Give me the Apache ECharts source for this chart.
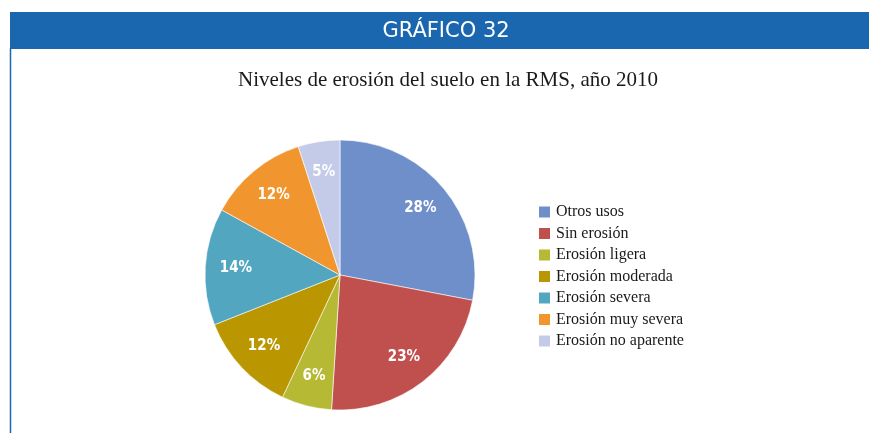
<!DOCTYPE html>
<html>
<head>
<meta charset="utf-8">
<script src="https://cdn.jsdelivr.net/npm/echarts@6/dist/echarts.min.js"></script>
<style>
  html, body { margin: 0; padding: 0; background: #ffffff; }
  #chart { width: 869px; height: 433px; }
</style>
</head>
<body>
<div id="chart"></div>
<script>
// Niveles de erosión del suelo en la RMS, año 2010 (porcentaje de superficie)
const categories = [
  'Otros usos',
  'Sin erosión',
  'Erosión ligera',
  'Erosión moderada',
  'Erosión severa',
  'Erosión muy severa',
  'Erosión no aparente'
];
const shares = [28, 23, 6, 12, 14, 12, 5];
const colors = ['#6f8fca', '#c0504d', '#b6b933', '#ba9600', '#53a6c0', '#f1962f', '#c4cbe8'];

const headerText = 'GRÁFICO 32';
const titleText = 'Niveles de erosión del suelo en la RMS, año 2010';

const pieData = categories.map((name, i) => ({
  name: name,
  value: shares[i],
  itemStyle: { color: colors[i] }
}));

const chart = echarts.init(document.getElementById('chart'), null, { renderer: 'canvas' });

const blue = '#1a67b0';
const cx = 340, cy = 275, r = 135;
const labelFont = '"Liberation Sans Narrow", "DejaVu Sans Condensed", "Roboto", "Liberation Sans", sans-serif';

chart.setOption({
  animation: false,
  backgroundColor: '#ffffff',
  title: {
    text: titleText,
    left: 443,
    textAlign: 'center',
    top: 65,
    textStyle: {
      fontFamily: 'Liberation Serif',
      fontSize: 21,
      fontWeight: 'normal',
      color: '#1a1a1a'
    }
  },
  graphic: [
    {
      type: 'rect',
      shape: { x: 10, y: 12, width: 859, height: 37 },
      style: { fill: blue },
      silent: true
    },
    {
      type: 'line',
      shape: { x1: 10.5, y1: 48, x2: 10.5, y2: 433 },
      style: { stroke: blue, lineWidth: 1.5 },
      silent: true
    },
    {
      type: 'text',
      x: 446,
      y: 32,
      style: {
        text: headerText,
        fill: '#ffffff',
        font: '21px "DejaVu Sans"',
        textAlign: 'center',
        textVerticalAlign: 'middle'
      },
      silent: true
    }
  ],
  legend: {
    orient: 'vertical',
    left: 537,
    top: 204,
    padding: 0,
    itemWidth: 13,
    itemHeight: 13,
    itemGap: 5.5,
    icon: 'rect',
    data: categories,
    textStyle: {
      fontFamily: 'Liberation Serif',
      fontSize: 16,
      color: '#1a1a1a'
    }
  },
  series: [
    {
      type: 'pie',
      center: [cx, cy],
      radius: [0, r],
      startAngle: 90,
      clockwise: true,
      data: pieData,
      label: { show: false },
      labelLine: { show: false },
      itemStyle: { borderColor: '#ffffff', borderWidth: 0.6 },
      emphasis: { disabled: true }
    },
    {
      // transparent ring used only to place the percentage labels further out
      type: 'pie',
      center: [cx, cy],
      radius: [0, r * 1.5],
      startAngle: 90,
      clockwise: true,
      silent: true,
      data: pieData.map(d => ({ name: d.name, value: d.value })),
      itemStyle: { color: 'rgba(0,0,0,0)' },
      label: {
        show: true,
        position: 'inside',
        formatter: p => p.value + '%',
        color: '#ffffff',
        fontFamily: labelFont,
        fontWeight: 'bold',
        fontSize: 15
      },
      labelLine: { show: false },
      emphasis: { disabled: true },
      legendHoverLink: false
    }
  ]
});
</script>
</body>
</html>
